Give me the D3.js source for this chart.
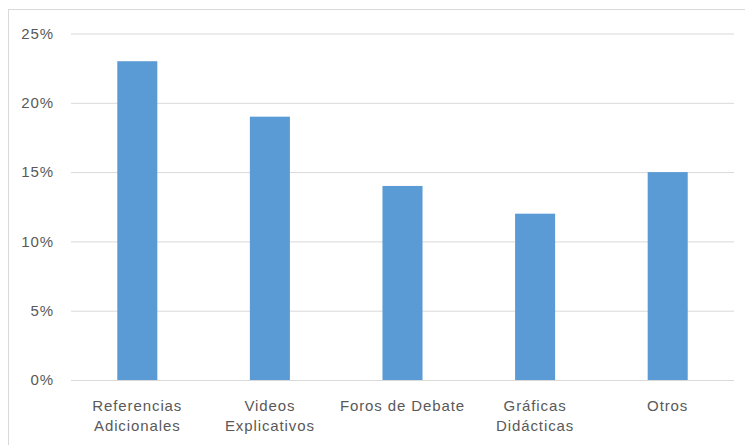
<!DOCTYPE html>
<html><head><meta charset="utf-8">
<script src="https://cdn.jsdelivr.net/npm/d3@7"></script>
<style>body{margin:0;background:#fff;} text{font-family:"Liberation Sans",Arial,sans-serif;letter-spacing:0.9px;}</style>
</head><body><svg id="c" width="745" height="445"></svg>
<script>
const categories = [["Referencias","Adicionales"],["Videos","Explicativos"],["Foros de Debate"],["Gráficas","Didácticas"],["Otros"]];
const values = [0.23, 0.19, 0.14, 0.12, 0.15];
const yTicks = [0, 0.05, 0.10, 0.15, 0.20, 0.25];

const svg = d3.select("#c");
const m = {l:71, r:734, t:33.5, b:380};
svg.append("rect").attr("x",8.5).attr("y",9.5).attr("width",760).attr("height",460)
  .attr("fill","#fff").attr("stroke","#d9d9d9");
const x = d3.scaleBand().domain(d3.range(categories.length)).range([m.l,m.r]).paddingInner(0.698).paddingOuter(0.349);
const y = d3.scaleLinear().domain([0,0.25]).range([m.b,m.t]);

const yAxis = d3.axisLeft(y).tickValues(yTicks).tickFormat(d3.format(".0%")).tickSize(-(m.r-m.l)).tickPadding(17);
const gy = svg.append("g").attr("transform",`translate(${m.l},0)`).call(yAxis);
gy.select(".domain").remove();
gy.selectAll(".tick line").attr("stroke","#d9d9d9").attr("stroke-width",1);
gy.selectAll(".tick text").attr("fill","#595959").style("font-size","15px");

svg.append("g").selectAll("rect").data(values).join("rect")
  .attr("x",(d,i)=>x(i)).attr("width",x.bandwidth())
  .attr("y",d=>y(d)).attr("height",d=>y(0)-y(d)).attr("fill","#5b9bd5");

const gx = svg.append("g").selectAll("text").data(categories).join("text")
  .attr("x",(d,i)=>x(i)+x.bandwidth()/2).attr("y",411)
  .attr("text-anchor","middle").attr("fill","#595959").style("font-size","15px");
gx.selectAll("tspan").data(d=>d).join("tspan")
  .attr("x",function(){return this.parentNode.getAttribute("x");})
  .attr("dy",(d,i)=>i?20:0).text(d=>d);
</script></body></html>
